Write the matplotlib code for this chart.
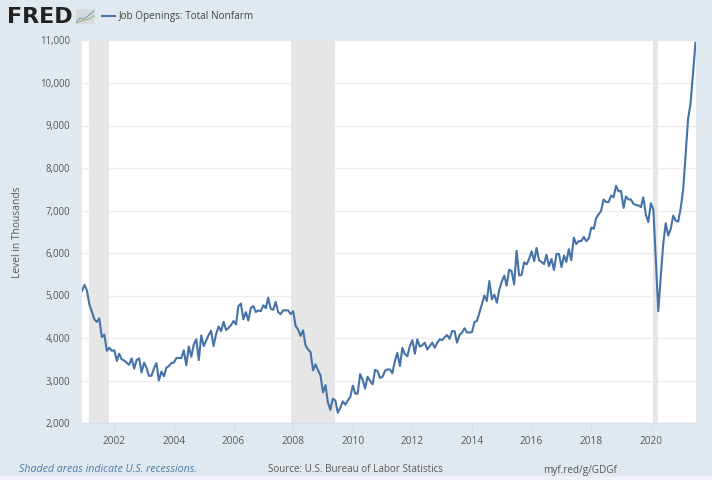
"""Job openings, total nonfarm, in the FRED chart style."""

from __future__ import annotations

import matplotlib

matplotlib.use("Agg")

import matplotlib.dates as mdates
import matplotlib.pyplot as plt
import pandas as pd
from matplotlib.patches import Rectangle

plt.rcParams["font.family"] = ["Open Sans", "DejaVu Sans"]

BG = "#e1e9f0"
LINE = "#4572a7"
GREY = "#e6e6e6"
TEXT = "#595959"
W, H = 712, 480

START_MONTH = "2000-12-01"
y2000 = [5110]
y2001 = [5250, 5110, 4790, 4620, 4440, 4380, 4460, 4020, 4080, 3700, 3770, 3700]
y2002 = [3710, 3460, 3630, 3500, 3470, 3420, 3370, 3520, 3280, 3480, 3520, 3190]
y2003 = [3420, 3290, 3110, 3110, 3280, 3410, 3000, 3210, 3100, 3300, 3340, 3410]
y2004 = [3420, 3530, 3530, 3530, 3710, 3360, 3800, 3560, 3850, 3970, 3480, 4060]
y2005 = [3810, 3950, 4070, 4170, 3810, 4090, 4270, 4160, 4380, 4190, 4240, 4300]
y2006 = [4400, 4320, 4750, 4810, 4440, 4610, 4410, 4710, 4750, 4610, 4650, 4630]
y2007 = [4770, 4700, 4950, 4690, 4660, 4850, 4610, 4560, 4650, 4650, 4650, 4560]
y2008 = [4630, 4280, 4200, 4050, 4180, 3830, 3730, 3670, 3240, 3380, 3240, 3120]
y2009 = [2720, 2890, 2490, 2310, 2570, 2530, 2240, 2360, 2510, 2430, 2530, 2610]
y2010 = [2880, 2690, 2690, 3150, 3020, 2810, 3090, 2990, 2910, 3250, 3220, 3060]
y2011 = [3090, 3230, 3260, 3260, 3170, 3460, 3650, 3340, 3770, 3620, 3570, 3810]
y2012 = [3950, 3630, 3970, 3800, 3830, 3890, 3730, 3810, 3890, 3770, 3890, 3970]
y2013 = [3950, 4020, 4070, 3980, 4160, 4160, 3890, 4070, 4130, 4230, 4130, 4130]
y2014 = [4140, 4380, 4400, 4590, 4790, 5000, 4870, 5340, 4910, 5020, 4830, 5140]
y2015 = [5330, 5470, 5230, 5610, 5570, 5260, 6050, 5470, 5490, 5780, 5730, 5860]
y2016 = [6040, 5810, 6120, 5830, 5790, 5740, 5960, 5690, 5860, 5600, 5980, 5980]
y2017 = [5670, 5940, 5790, 6090, 5830, 6360, 6210, 6280, 6280, 6380, 6280, 6340]
y2018 = [6600, 6570, 6820, 6910, 6990, 7260, 7200, 7200, 7350, 7310, 7580, 7450]
y2019 = [7460, 7060, 7330, 7260, 7260, 7160, 7130, 7120, 7080, 7310, 6900, 6730]
y2020 = [7170, 7020, 5850, 4630, 5440, 6220, 6700, 6410, 6570, 6880, 6760, 6740]
y2021 = [7060, 7515, 8300, 9150, 9510, 10230, 10950]

year_lists = [y2000, y2001, y2002, y2003, y2004, y2005, y2006, y2007, y2008, y2009, y2010,
              y2011, y2012, y2013, y2014, y2015, y2016, y2017, y2018, y2019, y2020, y2021]
openings = [value for year in year_lists for value in year]
months = pd.date_range(START_MONTH, periods=len(openings), freq="MS")

recession_starts = ["2001-03-01", "2007-12-01", "2020-02-01"]
recession_ends = ["2001-11-01", "2009-06-01", "2020-04-01"]
y_ticks = [2000, 3000, 4000, 5000, 6000, 7000, 8000, 9000, 10000, 11000]
x_tick_years = [2002, 2004, 2006, 2008, 2010, 2012, 2014, 2016, 2018, 2020]


def px_box(left, top, right, bottom):
    """Figure fraction box from reference pixel edges."""
    return [left / W, 1 - bottom / H, (right - left) / W, (bottom - top) / H]


fig = plt.figure(figsize=(W / 100, H / 100), dpi=100, facecolor=BG)
# pale strip along the bottom edge of the screenshot
fig.add_artist(Rectangle((0, 0), 1, 4 / H, transform=fig.transFigure, color="#eef2f6", lw=0))

ax = fig.add_axes(px_box(82, 40.5, 695.5, 423))
ax.set_facecolor("white")

for start, end in zip(recession_starts, recession_ends):
    ax.axvspan(pd.Timestamp(start), pd.Timestamp(end), color=GREY, lw=0, zorder=1)
ax.plot(months, openings, color=LINE, lw=1.5, zorder=3, solid_joinstyle="round")

ax.set_xlim(months[0], months[-1])
ax.set_ylim(2000, 11000)
ax.set_yticks(y_ticks, [f"{v:,}" for v in y_ticks])
ax.set_xticks([pd.Timestamp(f"{y}-01-01") for y in x_tick_years])
ax.xaxis.set_major_formatter(mdates.DateFormatter("%Y"))
ax.grid(True, axis="y", color="#eeeeee", lw=1, zorder=0)
ax.set_axisbelow(True)
for side in ["top", "right", "left"]:
    ax.spines[side].set_visible(False)
ax.spines["bottom"].set_color("#d3dfec")
ax.spines["bottom"].set_linewidth(1)
ax.tick_params(axis="y", length=0, pad=8.5, labelsize=6.9, labelcolor=TEXT)
ax.tick_params(axis="x", length=6, width=1, color="#d3dfec", pad=3, labelsize=7.3, labelcolor=TEXT)
ax.set_ylabel("Level in Thousands", fontsize=7.4, color=TEXT, labelpad=12.5)

fig.text(7 / W, 1 - 17 / H, "FRED", fontsize=16, fontweight="bold", color="#222222",
         family=["DejaVu Sans"], va="center")
icon = fig.add_axes(px_box(76, 9, 95, 24))
icon.set_xlim(0, 19)
icon.set_ylim(15, 0)
icon.axis("off")
icon.add_patch(Rectangle((0, 0), 19, 15, color="#d5dade", lw=0))
icon.plot([0, 4, 8, 12, 18], [13, 9, 10, 7, 2], color="#7d9cbd", lw=0.8)
icon.plot([0, 5, 9, 13, 18], [14, 12, 11, 10, 7], color="#9ab57e", lw=0.8)

fig.add_artist(plt.Line2D([102 / W, 115 / W], [1 - 16 / H] * 2, color=LINE, lw=1.5))
fig.text(119 / W, 1 - 16 / H, "Job Openings: Total Nonfarm", fontsize=7.2, color="#444444", va="center")

fig.text(19 / W, 1 - 470 / H, "Shaded areas indicate U.S. recessions.", fontsize=7.7, color="#4f7bab",
         style="italic", va="center")
fig.text(268 / W, 1 - 470 / H, "Source: U.S. Bureau of Labor Statistics", fontsize=7.1, color=TEXT, va="center")
fig.text(543 / W, 1 - 470 / H, "myf.red/g/GDGf", fontsize=7.2, color=TEXT, va="center")

fig.savefig("out.png", dpi=100, facecolor=BG)
plt.close(fig)
